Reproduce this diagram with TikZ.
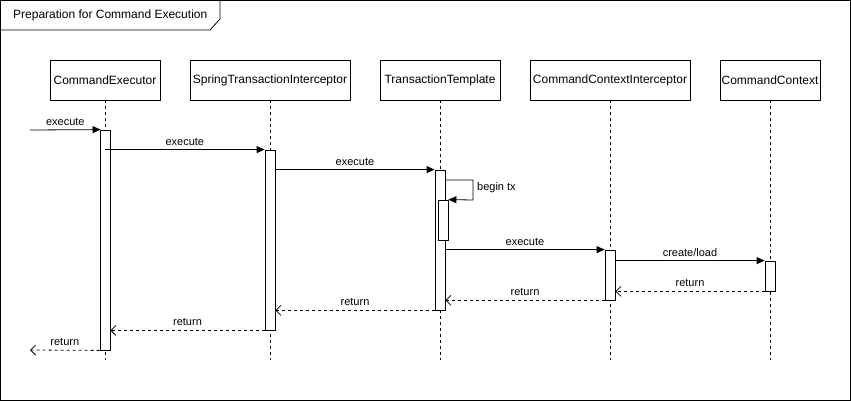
\documentclass[tikz,border=0pt]{standalone}
\usepackage{fontspec}
\setmainfont{Liberation Sans}
\usetikzlibrary{arrows.meta}
\begin{document}
\begin{tikzpicture}[x=1pt,y=-1pt,
  every node/.style={font=\fontsize{12}{14}\selectfont},
  obj/.style={draw,fill=white,minimum height=40,inner sep=0,line width=0.8pt},
  act/.style={draw,fill=white,minimum width=10,inner sep=0,line width=0.8pt},
  life/.style={line width=0.8pt,dash pattern=on 3pt off 3pt},
  msg/.style={line width=0.8pt,-{Triangle[length=8pt,width=7pt]}},
  ret/.style={line width=0.8pt,dash pattern=on 3pt off 3pt,-{Straight Barb[length=5pt,width=10pt]}},
  lbl/.style={font=\fontsize{11}{13}\selectfont,inner sep=0}]
\useasboundingbox (0,0) rectangle (851,401);
\fill[white] (0,0) rectangle (851,401);
% frame
\draw[line width=0.8pt] (0.5,0.5) rectangle (850.5,400.5);
\draw[line width=0.8pt] (0.5,30) -- (210,30) -- (220,19) -- (220,0.5);
\node[anchor=west,inner sep=0] (title) at (13,15) {Preparation for Command Execution};
% objects
\node[obj,minimum width=110] (oce) at (105,80) {CommandExecutor};
\node[obj,minimum width=160] (osti) at (270,80) {SpringTransactionInterceptor};
\node[obj,minimum width=120] (ott) at (440,80) {TransactionTemplate};
\node[obj,minimum width=160] (occi) at (610,80) {CommandContextInterceptor};
\node[obj,minimum width=100] (occ) at (770,80) {CommandContext};
% lifeline ends
\coordinate (ece) at (105,360);
\coordinate (esti) at (270,360);
\coordinate (ett) at (440,360);
\coordinate (ecci) at (610,360);
\coordinate (ecc) at (770,360);
\draw[life] (oce) -- (ece);
\draw[life] (osti) -- (esti);
\draw[life] (ott) -- (ett);
\draw[life] (occi) -- (ecci);
\draw[life] (occ) -- (ecc);
% activations
\node[act,minimum height=220] (ce) at (105,240) {};
\node[act,minimum height=180] (sti) at (270,240) {};
\node[act,minimum height=140] (tt) at (440,240) {};
\node[act,minimum height=40] (tx) at (443,220) {};
\node[act,minimum height=50] (cci) at (610,275) {};
\node[act,minimum height=30] (cc) at (770,276) {};
% message 1
\coordinate (in) at (30,130);
\draw[msg] (in) -- node[lbl,above=4pt] {execute} ([xshift=1pt]ce.north west);
% message 2
\draw[msg] (ce.center |- sti.north) -- node[lbl,above=4pt] {execute} (sti.north west);
% message 3
\draw[msg] (sti.east |- tt.north) -- node[lbl,above=4pt] {execute} (tt.north west);
% self message begin tx
\coordinate (s1) at (473,180);
\coordinate (s2) at (473,200);
\draw[msg] (tt.east |- s1) -- (s1) -- (s2) -- (tx.north east);
\node[lbl,anchor=west] (btx) at (477,188) {begin tx};
% message 5
\draw[msg] (tt.east |- cci.north) -- node[lbl,above=4pt] {execute} (cci.north west);
% message 6
\draw[msg] (cci.east |- cc.north) -- node[lbl,above=4pt] {create/load} (cc.north west);
% returns
\draw[ret] (cc.south west) -- node[lbl,above=4pt] {return} (cci.east |- cc.south);
\draw[ret] (cci.south west) -- node[lbl,above=4pt] {return} (tt.east |- cci.south);
\draw[ret] (tt.south west) -- node[lbl,above=4pt] {return} (sti.east |- tt.south);
\draw[ret] (sti.south west) -- node[lbl,above=4pt] {return} (ce.east |- sti.south);
\coordinate (out) at (30,350);
\draw[ret] (ce.south west) -- node[lbl,above=4pt] {return} (out);
\end{tikzpicture}
\end{document}
